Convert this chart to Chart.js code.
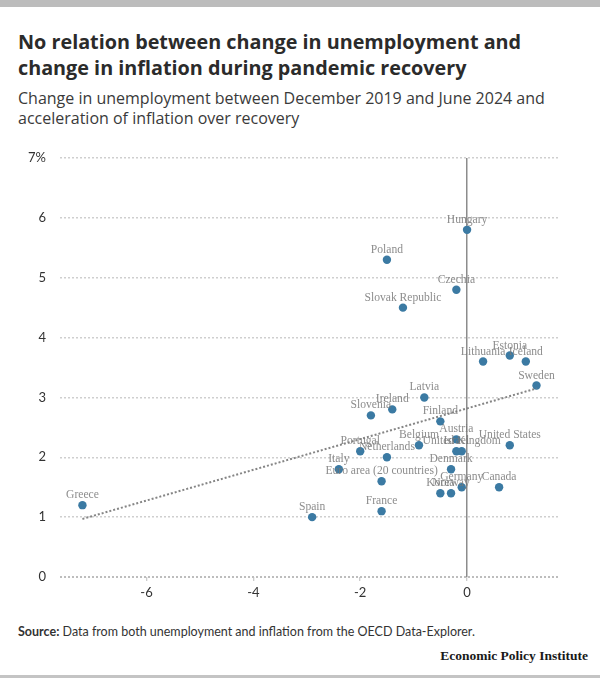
<!DOCTYPE html>
<html>
<head>
<meta charset="utf-8">
<script src="https://cdn.jsdelivr.net/npm/chart.js@4.4.1/dist/chart.umd.min.js"></script>
<style>
  html, body { margin: 0; padding: 0; background: #fff; }
  body { width: 600px; height: 699px; position: relative; overflow: hidden; font-family: Lato, "Open Sans", sans-serif; }
  #topbar { position: absolute; left: 0; top: 0; width: 600px; height: 7px; background: #bcbcbc; }
  #title { position: absolute; left: 18px; top: 29px; width: 580px; font-family: "Open Sans", Lato, sans-serif; font-size: 19.8px; line-height: 26px; font-weight: 700; color: #2b2b2b; white-space: nowrap; }
  #subtitle { position: absolute; left: 18px; top: 88px; width: 580px; font-family: "Open Sans", Lato, sans-serif; font-size: 16px; line-height: 20px; color: #3a3a3a; white-space: nowrap; }
  #wrap { position: absolute; left: 0; top: 140px; width: 600px; height: 470px; }
  #source { position: absolute; left: 18px; top: 624px; font-size: 12.5px; color: #333; }
  #logo { position: absolute; right: 12px; top: 648px; font-family: "Liberation Serif", "DejaVu Serif", serif; font-weight: 700; font-size: 13.5px; color: #1a1a1a; }
  #botbar { position: absolute; left: 0; top: 675px; width: 600px; height: 3px; background: #c4c4c4; }
</style>
</head>
<body>
<div id="topbar"></div>
<div id="title">No relation between change in unemployment and<br>change in inflation during pandemic recovery</div>
<div id="subtitle">Change in unemployment between December 2019 and June 2024 and<br>acceleration of inflation over recovery</div>
<div id="wrap"><canvas id="c"></canvas></div>
<div id="source"><b>Source:</b> Data from both unemployment and inflation from the OECD Data-Explorer.</div>
<div id="logo">Economic Policy Institute</div>
<div id="botbar"></div>
<script>
const countries = ['Hungary','Poland','Czechia','Slovak Republic','Lithuania','Estonia','Iceland','Sweden','Latvia','Ireland','Slovenia','Finland','Austria','Belgium','Israel','United Kingdom','United States','Portugal','Netherlands','Italy','Denmark','Euro area (20 countries)','Canada','Germany','Korea','Norway','France','Spain','Greece'];
const unemploymentChange = [0.0,-1.5,-0.2,-1.2,0.3,0.8,1.1,1.3,-0.8,-1.4,-1.8,-0.5,-0.2,-0.9,-0.2,-0.1,0.8,-2.0,-1.5,-2.4,-0.3,-1.6,0.6,-0.1,-0.5,-0.3,-1.6,-2.9,-7.2];
const inflationAcceleration = [5.8,5.3,4.8,4.5,3.6,3.7,3.6,3.2,3.0,2.8,2.7,2.6,2.3,2.2,2.1,2.1,2.2,2.1,2.0,1.8,1.8,1.6,1.5,1.5,1.4,1.4,1.1,1.0,1.2];
const trendX = [-7.2, 1.3];
const trendY = [0.97, 3.15];
const xTickValues = [-6, -4, -2, 0];
const yTickValues = [0, 1, 2, 3, 4, 5, 6, 7];

const points = countries.map((c, i) => ({ x: unemploymentChange[i], y: inflationAcceleration[i], label: c }));
const trend = trendX.map((x, i) => ({ x: x, y: trendY[i] }));

const labelPlugin = {
  id: 'pointLabels',
  afterDatasetsDraw(chart) {
    const ctx = chart.ctx;
    const meta = chart.getDatasetMeta(1);
    ctx.save();
    ctx.font = '11.6px "Liberation Serif", "DejaVu Serif", serif';
    ctx.fillStyle = 'rgba(120,120,120,0.85)';
    ctx.textAlign = 'center';
    ctx.textBaseline = 'middle';
    meta.data.forEach((el, i) => {
      ctx.fillText(countries[i], el.x, el.y - 10);
    });
    ctx.restore();
  }
};

new Chart(document.getElementById('c'), {
  type: 'scatter',
  data: {
    datasets: [
      {
        type: 'line',
        data: trend,
        borderColor: '#858585',
        borderWidth: 2,
        borderDash: [2, 2],
        pointRadius: 0,
        fill: false
      },
      {
        data: points,
        backgroundColor: '#3b7aa3',
        borderWidth: 0,
        pointRadius: 4.2,
        pointHoverRadius: 4.2
      }
    ]
  },
  options: {
    responsive: true,
    maintainAspectRatio: false,
    animation: false,
    layout: { padding: { top: 18, right: 40, left: 0, bottom: 0 } },
    plugins: { legend: { display: false }, tooltip: { enabled: false } },
    scales: {
      x: {
        type: 'linear',
        min: -7.62,
        max: 1.74,
        afterBuildTicks: (s) => { s.ticks = xTickValues.map(v => ({ value: v })); },
        afterFit: (s) => { s.height = 33; s.paddingLeft = 0; s.paddingRight = 0; },
        ticks: {
          color: '#333',
          font: { family: 'Lato', size: 13 },
          padding: 4,
          callback: (v) => String(v)
        },
        grid: {
          color: (ctx) => (ctx.tick && ctx.tick.value === 0) ? '#8c8c8c' : 'rgba(0,0,0,0)',
          lineWidth: 1.5,
          drawTicks: true,
          tickLength: 4,
          tickColor: '#bbbbbb',
          tickWidth: 1
        },
        border: { display: false, dash: [] }
      },
      y: {
        type: 'linear',
        min: 0,
        max: 7,
        afterBuildTicks: (s) => { s.ticks = yTickValues.map(v => ({ value: v })); },
        afterFit: (s) => { s.width = 60; s.paddingTop = 4; s.paddingBottom = 4; },
        ticks: {
          color: '#333',
          font: { family: 'Lato', size: 13 },
          padding: 14,
          callback: (v) => v === 7 ? '7%' : String(v)
        },
        grid: {
          color: (ctx) => (ctx.tick && ctx.tick.value === 0) ? '#bdbdbd' : '#cfcfcf',
          lineWidth: (ctx) => (ctx.tick && ctx.tick.value === 0) ? 2 : 1.5,
          drawTicks: false
        },
        border: { display: false, dash: [2, 2] }
      }
    }
  },
  plugins: [labelPlugin]
});
</script>
</body>
</html>
